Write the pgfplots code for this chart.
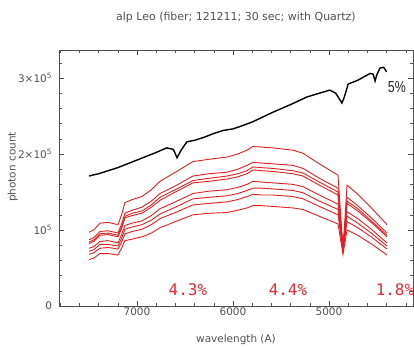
\documentclass[border=0pt]{standalone}
\usepackage{fontspec}
\setmainfont{DejaVu Sans}
\newfontfamily\monofont{DejaVu Sans Mono}
\newfontfamily\arialfont{Liberation Sans}
\usepackage{graphicx}
\usepackage{pgfplots}
\pgfplotsset{compat=1.18}
\usepackage{pgfplotstable}
\definecolor{redline}{RGB}{228,30,30}
\definecolor{redtext}{RGB}{232,40,50}
\definecolor{axgray}{RGB}{80,80,80}

\pgfplotstableread{
lam A B C D E F G H
7500 0.97 0.87 0.84 0.82 0.76 0.72 0.68 0.61
7450 1.00 0.90 0.87 0.85 0.78 0.74 0.70 0.63
7385 1.09 0.98 0.95 0.93 0.85 0.81 0.76 0.69
7300 1.10 0.99 0.96 0.94 0.86 0.81 0.77 0.69
7198 1.07 0.96 0.93 0.91 0.83 0.79 0.75 0.67
7160 1.20 1.08 1.04 1.02 0.94 0.89 0.84 0.76
7125 1.36 1.22 1.18 1.16 1.06 1.01 0.95 0.86
7050 1.40 1.26 1.22 1.19 1.09 1.04 0.98 0.88
6948 1.44 1.30 1.25 1.22 1.12 1.07 1.01 0.91
6850 1.53 1.38 1.33 1.30 1.19 1.13 1.07 0.96
6760 1.64 1.48 1.43 1.39 1.28 1.21 1.15 1.03
6600 1.76 1.58 1.53 1.50 1.37 1.30 1.23 1.11
6417 1.90 1.71 1.65 1.62 1.48 1.41 1.33 1.20
6250 1.93 1.74 1.68 1.64 1.51 1.43 1.35 1.22
6063 1.96 1.76 1.71 1.67 1.53 1.45 1.37 1.23
5950 2.00 1.80 1.74 1.70 1.56 1.48 1.40 1.26
5854 2.05 1.85 1.78 1.74 1.60 1.52 1.44 1.29
5792 2.10 1.89 1.83 1.79 1.64 1.55 1.47 1.32
5700 2.09 1.88 1.82 1.78 1.63 1.55 1.46 1.32
5583 2.08 1.87 1.81 1.77 1.62 1.54 1.46 1.31
5375 2.05 1.85 1.78 1.74 1.60 1.52 1.44 1.29
5271 2.01 1.81 1.75 1.71 1.57 1.49 1.41 1.27
5100 1.87 1.68 1.63 1.59 1.46 1.38 1.31 1.18
4906 1.72 1.55 1.50 1.46 1.34 1.27 1.20 1.08
4854 0.74 0.70 0.72 0.78 0.80 0.76 0.72 0.68
4812 1.59 1.43 1.38 1.35 1.24 1.18 1.11 1.00
4700 1.47 1.32 1.28 1.25 1.15 1.09 1.03 0.93
4550 1.28 1.15 1.11 1.09 1.00 0.95 0.90 0.81
4396 1.07 0.96 0.93 0.91 0.83 0.79 0.75 0.67
}\redtab

\pgfplotstableread{
lam v
7500 1.71
7400 1.74
7300 1.78
7200 1.82
7100 1.87
7000 1.92
6900 1.97
6800 2.02
6690 2.08
6620 2.06
6583 1.95
6540 2.05
6480 2.16
6400 2.18
6300 2.22
6200 2.27
6100 2.31
6000 2.33
5930 2.36
5800 2.42
5700 2.48
5583 2.55
5400 2.65
5230 2.75
5100 2.80
4990 2.84
4930 2.80
4880 2.70
4865 2.67
4840 2.75
4800 2.92
4700 2.97
4600 3.04
4570 3.06
4540 3.05
4520 2.96
4505 3.03
4470 3.13
4430 3.14
4400 3.08
}\blacktab

\begin{document}
\begin{tikzpicture}
\begin{axis}[
  at={(0,0)}, anchor=south west,
  scale only axis, width=354bp, height=256bp,
  xmin=4125, xmax=7812, x dir=reverse,
  ymin=0, ymax=3.368,
  xtick={5000,6000,7000},
  minor xtick={4200,4400,...,7800},
  ytick={0,1,2,3},
  yticklabels={0,10\textsuperscript{5},2×10\textsuperscript{5},3×10\textsuperscript{5}},
  minor ytick={0.2,0.4,...,3.3},
  tick align=inside,
  major tick length=5bp, minor tick length=3bp,
  axis line style={axgray},
  every tick/.style={axgray},
  /pgf/number format/assume math mode=true,
  /pgf/number format/set thousands separator={},
  tick label style={font=\fontsize{10.5}{12}\selectfont, text=axgray},
  xticklabel style={anchor=center, yshift=-6bp},
  yticklabel style={anchor=east, xshift=-3.5bp},
  title={alp Leo (fiber; 121211; 30 sec; with Quartz)},
  title style={at={(0.5,1)}, anchor=center, yshift=27bp, font=\fontsize{11}{12}\selectfont, text=axgray},
  xlabel={wavelength (A)},
  xlabel style={at={(0.5,0)}, anchor=center, yshift=-34bp, font=\fontsize{10.5}{12}\selectfont, text=axgray},
  ylabel={photon count},
  ylabel style={at={(-0.131,0.543)}, anchor=center, font=\fontsize{10.5}{12}\selectfont, text=axgray},
]
\addplot[redline, line width=0.9bp] table[x=lam, y=A] \redtab;
\addplot[redline, line width=0.9bp] table[x=lam, y=B] \redtab;
\addplot[redline, line width=0.9bp] table[x=lam, y=C] \redtab;
\addplot[redline, line width=0.9bp] table[x=lam, y=D] \redtab;
\addplot[redline, line width=0.9bp] table[x=lam, y=E] \redtab;
\addplot[redline, line width=0.9bp] table[x=lam, y=F] \redtab;
\addplot[redline, line width=0.9bp] table[x=lam, y=G] \redtab;
\addplot[redline, line width=0.9bp] table[x=lam, y=H] \redtab;
\addplot[black, line width=1.4bp] table[x=lam, y=v] \blacktab;
\node[text=redtext, font=\monofont\fontsize{16}{16}\selectfont] at (axis cs:6469,0.21) {4.3\%};
\node[text=redtext, font=\monofont\fontsize{16}{16}\selectfont] at (axis cs:5427,0.21) {4.4\%};
\node[text=redtext, font=\monofont\fontsize{16}{16}\selectfont] at (axis cs:4313,0.21) {1.8\%};
\node[text=black!85, font=\arialfont\fontsize{16}{16}\selectfont] at (axis cs:4292,2.88) {\scalebox{0.78}[1]{5\%}};
\end{axis}
\pgfresetboundingbox
\path (-59bp,-41bp) rectangle (355bp,306bp);
\end{tikzpicture}
\end{document}
